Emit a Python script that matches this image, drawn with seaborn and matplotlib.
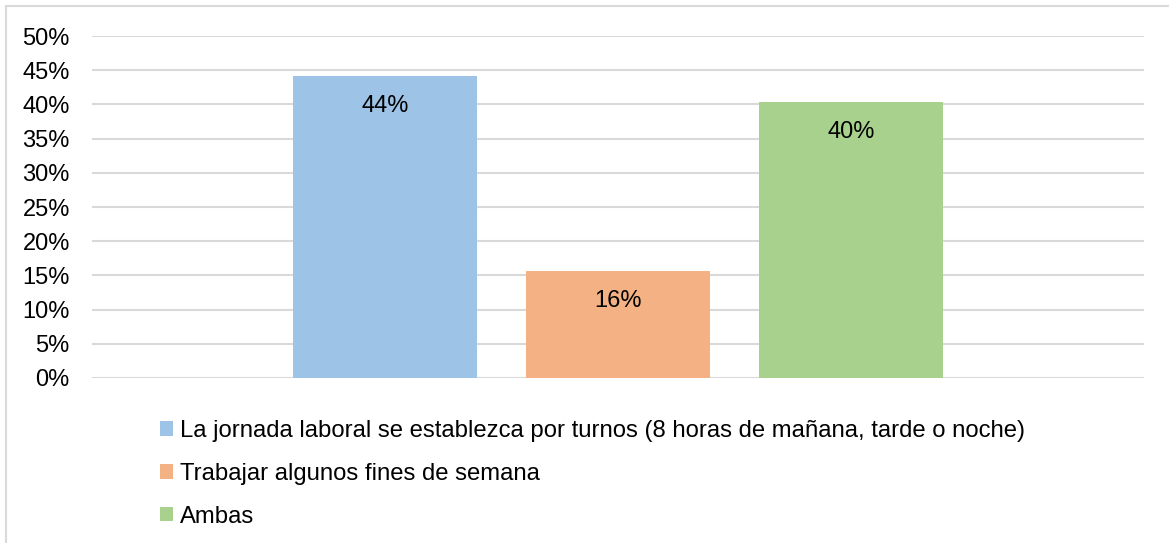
import matplotlib
matplotlib.use('Agg')
import matplotlib.pyplot as plt
from matplotlib.patches import Patch, Rectangle
from matplotlib.ticker import PercentFormatter
import seaborn as sns

# Data
categories = ['La jornada laboral se establezca por turnos (8 horas de mañana, tarde o noche)',
              'Trabajar algunos fines de semana',
              'Ambas']
values = [0.441, 0.156, 0.403]
value_labels = ['44%', '16%', '40%']
colors = ['#9DC3E6', '#F4B183', '#A9D18E']
yticks = [0, 0.05, 0.10, 0.15, 0.20, 0.25, 0.30, 0.35, 0.40, 0.45, 0.50]

sns.set_theme(style='white')
plt.rcParams['font.family'] = ['Liberation Sans', 'DejaVu Sans']
plt.rcParams['text.color'] = 'black'

W, H = 1169, 543
fig = plt.figure(figsize=(W / 100, H / 100), dpi=100)
ax = fig.add_axes([92 / W, 1 - 378 / H, (1144 - 92) / W, (378 - 36) / H])

sns.barplot(x=categories, y=values, hue=categories, palette=colors,
            width=0.79, legend=False, saturation=1, linewidth=0, ax=ax)

for cont, lab in zip(ax.containers, value_labels):
    ax.bar_label(cont, labels=[lab], padding=-29, fontsize=17, color='black')

ax.set_xlim(-1.257, 3.257)
ax.set_ylim(0, 0.5)
ax.set_yticks(yticks)
ax.yaxis.set_major_formatter(PercentFormatter(1.0, decimals=0))
ax.tick_params(axis='y', labelsize=17, colors='black', length=0, pad=16)
ax.set_xticks([])
ax.set_axisbelow(True)
ax.yaxis.grid(True, color='#d9d9d9', linewidth=1.5)
for s in ax.spines.values():
    s.set_visible(False)
ax.set_xlabel('')
ax.set_ylabel('')

handles = [Patch(facecolor=c, edgecolor='none') for c in colors]
fig.legend(handles, categories, loc='upper left',
           bbox_to_anchor=(160 / W, 1 - 420 / H), frameon=False,
           fontsize=17.2, handlelength=0.55, handleheight=0.55,
           handletextpad=0.27, labelspacing=0.87, borderaxespad=0,
           borderpad=0, labelcolor='black')

# chart border like the spreadsheet frame
fig.patches.append(Rectangle((6 / W, -0.1), 1.2, 1 - 6.5 / H + 0.1,
                             transform=fig.transFigure, fill=False,
                             edgecolor='#d9d9d9', linewidth=1.5))

fig.savefig('out.png', dpi=100)
